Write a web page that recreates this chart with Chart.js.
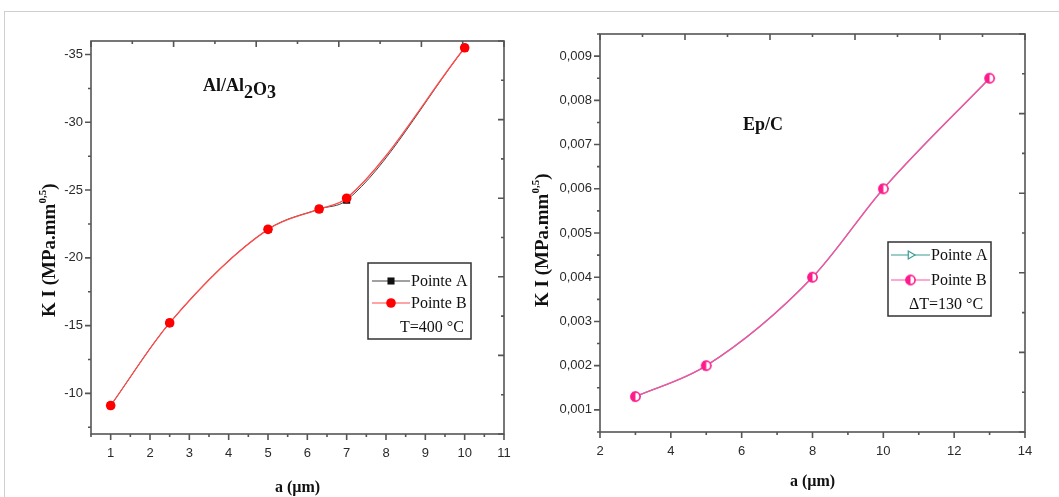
<!DOCTYPE html>
<html>
<head>
<meta charset="utf-8">
<script src="https://cdn.jsdelivr.net/npm/chart.js@4/dist/chart.umd.min.js"></script>
<style>
  body { margin: 0; background: #fff; }
  #page { position: relative; width: 1059px; height: 497px; overflow: hidden; }
  #edge { position: absolute; left: 4px; top: 11px; right: 0; bottom: 0; border-top: 1px solid #cfcfcf; border-left: 1px solid #cfcfcf; }
  .box { position: absolute; top: 0; height: 497px; }
</style>
</head>
<body>
<div id="page">
  <div id="edge"></div>
  <div class="box" style="left:0;width:530px"><canvas id="alChart" width="530" height="497"></canvas></div>
  <div class="box" style="left:530px;width:529px"><canvas id="epChart" width="529" height="497"></canvas></div>
</div>
<script>
// Al/Al2O3, T = 400 °C
const alCrack = [1, 2.5, 5, 6.3, 7, 10];
const alPointeA = [-9.1, -15.2, -22.1, -23.6, -24.25, -35.5];
const alPointeB = [-9.1, -15.2, -22.1, -23.6, -24.4, -35.5];
const alXTicks = [1, 2, 3, 4, 5, 6, 7, 8, 9, 10, 11];
const alYTicks = [-35, -30, -25, -20, -15, -10];

// Ep/C, dT = 130 °C
const epCrack = [3, 5, 8, 10, 13];
const epPointeA = [0.0013, 0.002, 0.004, 0.006, 0.0085];
const epPointeB = [0.0013, 0.002, 0.004, 0.006, 0.0085];
const epXTicks = [2, 4, 6, 8, 10, 12, 14];
const epYTicks = [0.001, 0.002, 0.003, 0.004, 0.005, 0.006, 0.007, 0.008, 0.009];

// mirror axes (top / right), plain 0..10 scale as Origin draws them
const mirrorTicks = [0, 2, 4, 6, 8, 10];

const pts = (xs, ys) => xs.map((x, i) => ({ x, y: ys[i] }));

function halfDot(color) {
  const c = document.createElement('canvas');
  c.width = 13; c.height = 13;
  const g = c.getContext('2d');
  g.fillStyle = '#fff';
  g.beginPath(); g.arc(6.5, 6.5, 4.6, 0, 2 * Math.PI); g.fill();
  g.fillStyle = color;
  g.beginPath(); g.arc(6.5, 6.5, 4.6, Math.PI / 2, Math.PI * 1.5); g.fill();
  g.strokeStyle = color; g.lineWidth = 1.6;
  g.beginPath(); g.arc(6.5, 6.5, 4.6, 0, 2 * Math.PI); g.stroke();
  return c;
}

function minorOf(scale, major) {
  const step = major[1] - major[0];
  const out = [];
  for (let v = major[0] - step / 2; v <= scale.max + step * 1e-6; v += step) {
    if (v >= scale.min - step * 1e-6) out.push(v);
  }
  return out;
}

function marks(ctx, scale, values, edge, dir, len, horizontal) {
  ctx.beginPath();
  values.forEach(v => {
    const p = scale.getPixelForValue(v);
    if (horizontal) { ctx.moveTo(p, edge); ctx.lineTo(p, edge + dir * len); }
    else { ctx.moveTo(edge, p); ctx.lineTo(edge + dir * len, p); }
  });
  ctx.stroke();
}

function richText(ctx, parts, x, y) {
  parts.forEach(([t, dy, size]) => {
    ctx.font = 'bold ' + size + 'px "Liberation Serif", serif';
    ctx.fillText(t, x, y + dy);
    x += ctx.measureText(t).width;
  });
}

const originFrame = {
  id: 'originFrame',
  afterDraw(chart, args, o) {
    const { ctx, chartArea: a, scales } = chart;
    ctx.save();
    ctx.strokeStyle = '#555';
    ctx.lineWidth = 1.6;
    ctx.strokeRect(a.left, a.top, a.right - a.left, a.bottom - a.top);

    // outward ticks, bottom and left
    marks(ctx, scales.x, o.xMajor, a.bottom, 1, 6, true);
    marks(ctx, scales.x, minorOf(scales.x, o.xMajor), a.bottom, 1, 3, true);
    marks(ctx, scales.y, o.yMajor, a.left, -1, 6, false);
    marks(ctx, scales.y, minorOf(scales.y, o.yMajor), a.left, -1, 3, false);
    // inward ticks, top and right
    marks(ctx, scales.x2, mirrorTicks, a.top, 1, 6, true);
    marks(ctx, scales.x2, minorOf(scales.x2, mirrorTicks), a.top, 1, 3, true);
    marks(ctx, scales.y2, mirrorTicks, a.right, -1, 6, false);
    marks(ctx, scales.y2, minorOf(scales.y2, mirrorTicks), a.right, -1, 3, false);

    ctx.fillStyle = '#111';
    ctx.textBaseline = 'alphabetic';

    // x title
    ctx.font = 'bold 16px "Liberation Serif", serif';
    ctx.textAlign = 'center';
    ctx.fillText('a (µm)', (a.left + a.right) / 2, o.xTitleY);

    // y title with superscript
    ctx.save();
    ctx.translate(o.yTitle[0], o.yTitle[1]);
    ctx.rotate(-Math.PI / 2);
    ctx.textAlign = 'left';
    let px = 0;
    ctx.font = 'bold 19px "Liberation Serif", serif';
    ctx.fillText('K I (MPa.mm', px, 0);
    px += ctx.measureText('K I (MPa.mm').width;
    ctx.font = 'bold 11px "Liberation Serif", serif';
    ctx.fillText('0,5', px, -9);
    px += ctx.measureText('0,5').width;
    ctx.font = 'bold 19px "Liberation Serif", serif';
    ctx.fillText(')', px, 0);
    ctx.restore();

    // sample label
    ctx.textAlign = 'left';
    richText(ctx, o.note.parts, o.note.x, o.note.y);

    // legend box
    const L = o.legend;
    ctx.strokeStyle = '#333';
    ctx.lineWidth = 1.5;
    ctx.strokeRect(L.box[0], L.box[1], L.box[2], L.box[3]);
    chart.data.datasets.forEach((ds, i) => {
      const y = L.rows[i];
      ctx.strokeStyle = ds.borderColor;
      ctx.lineWidth = 1.2;
      ctx.beginPath(); ctx.moveTo(L.line[0], y); ctx.lineTo(L.line[1], y); ctx.stroke();
      ctx.fillStyle = ds.pointBackgroundColor;
      ctx.strokeStyle = ds.pointBorderColor;
      Chart.helpers.drawPoint(ctx, {
        pointStyle: ds.pointStyle, radius: ds.pointRadius,
        rotation: ds.pointRotation || 0, borderWidth: ds.pointBorderWidth
      }, (L.line[0] + L.line[1]) / 2, y);
      ctx.fillStyle = '#111';
      ctx.font = '16px "Liberation Serif", serif';
      ctx.textBaseline = 'middle';
      ctx.fillText(ds.label, L.line[1] + 1, y + 1);
    });
    ctx.textAlign = 'center';
    ctx.fillText(L.extra, L.extraX, L.extraY);
    ctx.restore();
  }
};

function axes(xMin, xMax, xTicks, yMin, yMax, yTicks, reverse, fmt, yWidth, xHeight) {
  const tickFont = { family: '"Liberation Sans", Arial, sans-serif', size: 13 };
  return {
    x: {
      type: 'linear', min: xMin, max: xMax,
      grid: { display: false, drawTicks: false }, border: { display: false },
      afterBuildTicks: s => { s.ticks = xTicks.map(v => ({ value: v })); },
      afterFit: s => { s.height = xHeight; },
      ticks: { color: '#2a2a2a', font: tickFont, padding: 12, maxRotation: 0, autoSkip: false, callback: v => String(v) }
    },
    y: {
      min: yMin, max: yMax, reverse,
      grid: { display: false, drawTicks: false }, border: { display: false },
      afterBuildTicks: s => { s.ticks = yTicks.map(v => ({ value: v })); },
      afterFit: s => { s.width = yWidth; },
      ticks: { color: '#2a2a2a', font: tickFont, padding: 8, autoSkip: false, callback: fmt }
    },
    x2: { type: 'linear', position: 'top', min: 0, max: 10, display: false },
    y2: { type: 'linear', position: 'right', min: 0, max: 10, display: false }
  };
}

new Chart(document.getElementById('alChart'), {
  type: 'line',
  data: {
    datasets: [{
      label: 'Pointe A',
      data: pts(alCrack, alPointeA),
      borderColor: '#444', borderWidth: 1,
      pointStyle: 'rect', pointRadius: 5,
      pointBackgroundColor: '#111', pointBorderColor: '#111', pointBorderWidth: 0,
      cubicInterpolationMode: 'monotone', order: 2
    }, {
      label: 'Pointe B',
      data: pts(alCrack, alPointeB),
      borderColor: '#ff4a4a', borderWidth: 1.3,
      pointStyle: 'circle', pointRadius: 4.8,
      pointBackgroundColor: '#ff0000', pointBorderColor: '#ff0000', pointBorderWidth: 0,
      cubicInterpolationMode: 'monotone', order: 1
    }]
  },
  options: {
    responsive: false,
    animation: false,
    layout: { padding: { top: 41, right: 26, bottom: 0, left: 0 } },
    scales: axes(0.5, 11, alXTicks, -36, -7, alYTicks, true, v => String(v), 91, 63),
    plugins: {
      legend: { display: false },
      tooltip: { enabled: false },
      originFrame: {
        xMajor: alXTicks, yMajor: alYTicks,
        xTitleY: 492,
        yTitle: [55, 317],
        note: { x: 203, y: 91, parts: [['Al/Al', 0, 18], ['2', 7, 18], ['O', 4, 18], ['3', 7, 18]] },
        legend: { box: [368, 263, 103, 76], line: [372, 410], rows: [281, 303], extra: 'T=400 °C', extraX: 432, extraY: 328 }
      }
    }
  },
  plugins: [originFrame]
});

new Chart(document.getElementById('epChart'), {
  type: 'line',
  data: {
    datasets: [{
      label: 'Pointe A',
      data: pts(epCrack, epPointeA),
      borderColor: '#3a9e94', borderWidth: 1.2,
      pointStyle: 'triangle', pointRotation: 90, pointRadius: 4.5,
      pointBackgroundColor: '#fff', pointBorderColor: '#3a9e94', pointBorderWidth: 1.3,
      cubicInterpolationMode: 'monotone', order: 2
    }, {
      label: 'Pointe B',
      data: pts(epCrack, epPointeB),
      borderColor: '#ff4fa3', borderWidth: 1.4,
      pointStyle: halfDot('#ff1a8c'), pointRadius: 5,
      pointBackgroundColor: '#ff1a8c', pointBorderColor: '#ff1a8c', pointBorderWidth: 1.5,
      cubicInterpolationMode: 'monotone', order: 1
    }]
  },
  options: {
    responsive: false,
    animation: false,
    layout: { padding: { top: 34, right: 34, bottom: 0, left: 0 } },
    scales: axes(2, 14, epXTicks, 0.0005, 0.0095, epYTicks, false, v => v.toFixed(3).replace('.', ','), 70, 65),
    plugins: {
      legend: { display: false },
      tooltip: { enabled: false },
      originFrame: {
        xMajor: epXTicks, yMajor: epYTicks,
        xTitleY: 486,
        yTitle: [18, 307],
        note: { x: 213, y: 130, parts: [['Ep/C', 0, 18]] },
        legend: { box: [358, 242, 103, 74], line: [361, 400], rows: [255, 280], extra: 'ΔT=130 °C', extraX: 416, extraY: 305 }
      }
    }
  },
  plugins: [originFrame]
});
</script>
</body>
</html>
